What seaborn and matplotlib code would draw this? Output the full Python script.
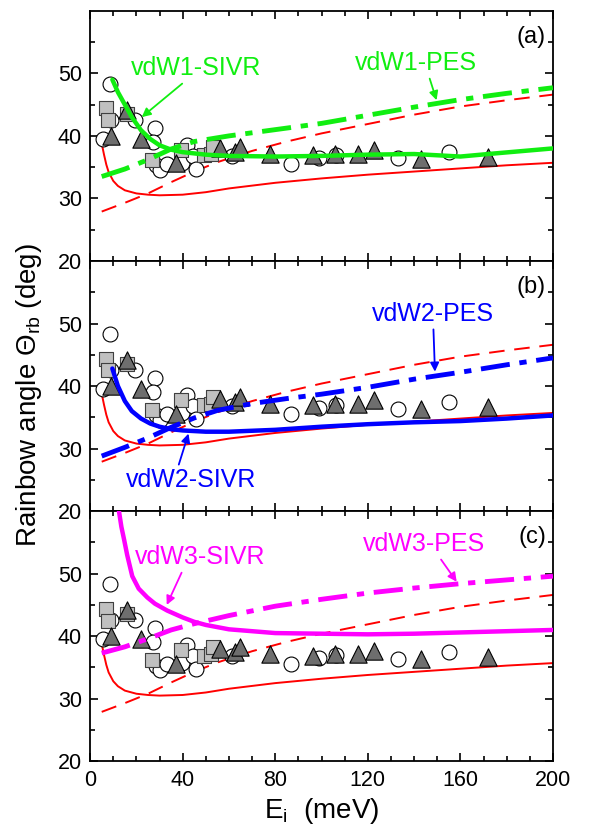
import seaborn as sns
import matplotlib.pyplot as plt
import matplotlib.ticker as mticker

# experimental rainbow angles (same in every panel)
circ_E = [5.7, 8.6, 8.9, 19.3, 27.9, 27.3, 28.3, 30.0, 33.3, 39.8, 42.0, 44.5, 45.8,
          61.4, 86.9, 99.1, 106.3, 132.9, 155.0]
circ_th = [39.5, 48.3, 42.6, 42.6, 41.3, 39.1, 35.3, 34.6, 35.5, 35.7, 38.6, 36.8, 34.7,
           36.8, 35.5, 36.5, 37.0, 36.4, 37.5]
sq_E = [7.0, 7.9, 16.0, 26.9, 39.1, 49.1, 52.3, 53.2]
sq_th = [44.4, 42.5, 43.5, 36.2, 37.8, 36.9, 37.1, 38.3]
tri_E = [8.9, 16.1, 21.8, 37.2, 56.0, 62.8, 64.9, 77.9, 96.1, 105.9, 115.9, 122.8, 142.8, 172.0]
tri_th = [40.0, 44.2, 39.5, 35.6, 38.0, 37.5, 38.2, 37.1, 36.9, 37.1, 37.1, 37.7, 36.3, 36.7]

# reference calculations (red, same in every panel)
ref_sivr_E = [5, 6, 7, 8, 10, 12, 15, 20, 25, 30, 40, 50, 60, 80, 100, 120, 140, 160, 180, 200]
ref_sivr_th = [38.8, 37.0, 35.4, 34.2, 32.8, 32.0, 31.3, 30.8, 30.6, 30.5, 30.6, 31.0, 31.6,
               32.5, 33.2, 33.8, 34.3, 34.8, 35.3, 35.7]
ref_pes_E = [5, 15, 25, 35, 45, 55, 70, 85, 100, 120, 140, 160, 180, 200]
ref_pes_th = [27.9, 29.3, 30.8, 32.6, 34.3, 35.8, 37.6, 39.1, 40.4, 41.9, 43.4, 44.7, 45.7, 46.6]

# vdW1
vdw1_sivr_E = [9.6, 12, 15, 18, 22, 26, 30, 35, 40, 50, 60, 80, 100, 120, 140, 150, 160, 175, 200]
vdw1_sivr_th = [49.0, 47.0, 45.0, 43.0, 40.9, 39.5, 38.5, 37.8, 37.4, 37.0, 36.8, 36.7, 36.8,
                37.0, 37.1, 36.9, 36.7, 37.2, 38.0]
vdw1_pes_E = [5, 15, 25, 35, 45, 60, 80, 100, 120, 140, 160, 180, 200]
vdw1_pes_th = [33.5, 34.7, 36.2, 37.9, 39.1, 40.0, 41.0, 42.0, 43.3, 44.6, 45.8, 46.8, 47.7]

# vdW2
vdw2_sivr_E = [9.6, 12, 15, 18, 22, 26, 30, 35, 40, 50, 60, 80, 100, 120, 140, 160, 180, 200]
vdw2_sivr_th = [42.8, 40.0, 37.6, 36.0, 34.8, 34.0, 33.5, 33.1, 32.9, 32.7, 32.7, 33.0, 33.5,
                33.9, 34.2, 34.4, 34.8, 35.3]
vdw2_pes_E = [5, 15, 25, 35, 45, 55, 70, 85, 100, 120, 140, 160, 180, 200]
vdw2_pes_th = [28.8, 30.2, 31.7, 33.4, 34.9, 36.1, 37.2, 38.0, 38.7, 39.8, 41.1, 42.2, 43.4, 44.5]

# vdW3
vdw3_sivr_E = [12.0, 12.5, 13.5, 14.7, 16, 18.2, 21, 24.7, 28, 33.3, 40, 45, 50, 60, 80, 100,
               120, 140, 160, 180, 200]
vdw3_sivr_th = [62.0, 59.9, 57.5, 55.4, 53.0, 49.6, 47.6, 46.2, 45.2, 44.1, 43.0, 42.3, 41.8,
                41.1, 40.5, 40.4, 40.3, 40.4, 40.6, 40.8, 41.0]
vdw3_pes_E = [5, 15, 25, 35, 45, 60, 80, 100, 120, 140, 160, 180, 200]
vdw3_pes_th = [37.3, 38.3, 39.6, 41.0, 42.0, 43.3, 44.8, 45.9, 46.9, 47.7, 48.4, 49.0, 49.6]

panel_labels = ["(a)", "(b)", "(c)"]
colors = ["#11ee11", "#0000ff", "#ff00ff"]

sns.set_style("ticks", {"axes.edgecolor": "black", "xtick.color": "black",
                        "ytick.color": "black", "text.color": "black",
                        "axes.labelcolor": "black"})
plt.rcParams['font.family'] = ['Liberation Sans', 'DejaVu Sans']
plt.rcParams['mathtext.fontset'] = 'custom'
plt.rcParams['mathtext.rm'] = 'Liberation Sans'
plt.rcParams['mathtext.it'] = 'Liberation Sans:italic'

fig, axes = plt.subplots(3, 1, sharex=True, figsize=(6.09, 8.32), dpi=100)
fig.subplots_adjust(left=0.148, right=0.908, bottom=0.085, top=0.987, hspace=0)

dashdot = (0, (6, 2, 1.5, 2))
dashed = (0, (8, 5))

curves = [
    (vdw1_sivr_E, vdw1_sivr_th, vdw1_pes_E, vdw1_pes_th),
    (vdw2_sivr_E, vdw2_sivr_th, vdw2_pes_E, vdw2_pes_th),
    (vdw3_sivr_E, vdw3_sivr_th, vdw3_pes_E, vdw3_pes_th),
]

for i, ax in enumerate(axes):
    c = colors[i]
    sE, sth, pE, pth = curves[i]
    # red reference curves
    sns.lineplot(x=ref_sivr_E, y=ref_sivr_th, ax=ax, color="#ff0000", lw=1.4,
                 estimator=None, zorder=2)
    sns.lineplot(x=ref_pes_E, y=ref_pes_th, ax=ax, color="#ff0000", lw=1.4,
                 linestyle=dashed, estimator=None, zorder=2)
    # experiment
    sns.scatterplot(x=circ_E, y=circ_th, ax=ax, marker="o", s=115, facecolor="white",
                    edgecolor="black", linewidth=0.8, zorder=3)
    sns.scatterplot(x=sq_E, y=sq_th, ax=ax, marker="s", s=90, facecolor="#c0c0c0",
                    edgecolor="#404040", linewidth=0.8, zorder=3)
    sns.scatterplot(x=tri_E, y=tri_th, ax=ax, marker="^", s=155, facecolor="#6e6e6e",
                    edgecolor="black", linewidth=0.8, zorder=3)
    # vdW curves
    sns.lineplot(x=pE, y=pth, ax=ax, color=c, lw=3.5, linestyle=dashdot,
                 estimator=None, zorder=4)
    sns.lineplot(x=sE, y=sth, ax=ax, color=c, lw=3.2, estimator=None, zorder=4)

    ax.set_xlim(0, 200)
    ax.set_ylim(20, 60)
    ax.xaxis.set_major_locator(mticker.MultipleLocator(40))
    ax.xaxis.set_minor_locator(mticker.MultipleLocator(10))
    ax.set_yticks([20, 30, 40, 50])
    ax.yaxis.set_minor_locator(mticker.FixedLocator([25, 35, 45, 55]))
    ax.tick_params(which='both', direction='in', top=True, right=True, labelsize=15.5,
                   width=1.2, pad=6)
    ax.tick_params(which='major', length=6)
    ax.tick_params(which='minor', length=3.5)
    for sp in ax.spines.values():
        sp.set_linewidth(1.3)
    ax.set_xlabel("")
    ax.set_ylabel("")
    ax.text(0.985, 0.895, panel_labels[i], transform=ax.transAxes, ha='right',
            va='center', fontsize=17)

arrow = dict(arrowstyle='-|>', lw=1.3, mutation_scale=13, shrinkA=0, shrinkB=0)

axes[0].annotate("vdW1-SIVR", xy=(22.3, 43.0), xytext=(46, 50.8), fontsize=18,
                 color=colors[0], ha='center', va='center',
                 arrowprops=dict(arrow, color=colors[0], relpos=(0.42, 0.0)))
axes[0].annotate("vdW1-PES", xy=(149.7, 45.7), xytext=(141, 51.6), fontsize=18,
                 color=colors[0], ha='center', va='center',
                 arrowprops=dict(arrow, color=colors[0], relpos=(0.6, 0.0)))
axes[1].annotate("vdW2-PES", xy=(149, 42.3), xytext=(148.3, 51.5), fontsize=18,
                 color=colors[1], ha='center', va='center',
                 arrowprops=dict(arrow, color=colors[1], relpos=(0.5, 0.0)))
axes[1].annotate("vdW2-SIVR", xy=(42.5, 32.4), xytext=(43.5, 25.0), fontsize=18,
                 color=colors[1], ha='center', va='center',
                 arrowprops=dict(arrow, color=colors[1], relpos=(0.4, 1.0)))
axes[2].annotate("vdW3-SIVR", xy=(33.1, 45.0), xytext=(47.5, 52.6), fontsize=18,
                 color=colors[2], ha='center', va='center',
                 arrowprops=dict(arrow, color=colors[2], relpos=(0.37, 0.0)))
axes[2].annotate("vdW3-PES", xy=(158.4, 48.7), xytext=(144.3, 54.7), fontsize=18,
                 color=colors[2], ha='center', va='center',
                 arrowprops=dict(arrow, color=colors[2], relpos=(0.62, 0.0)))

axes[2].set_xlabel(r"E$_{\mathrm{i}}$  (meV)", fontsize=20, labelpad=4)
fig.text(0.048, 0.525, r"Rainbow angle Θ$_{\mathrm{rb}}$ (deg)", rotation=90,
         ha='center', va='center', fontsize=20)

fig.savefig("out.png", dpi=100)
